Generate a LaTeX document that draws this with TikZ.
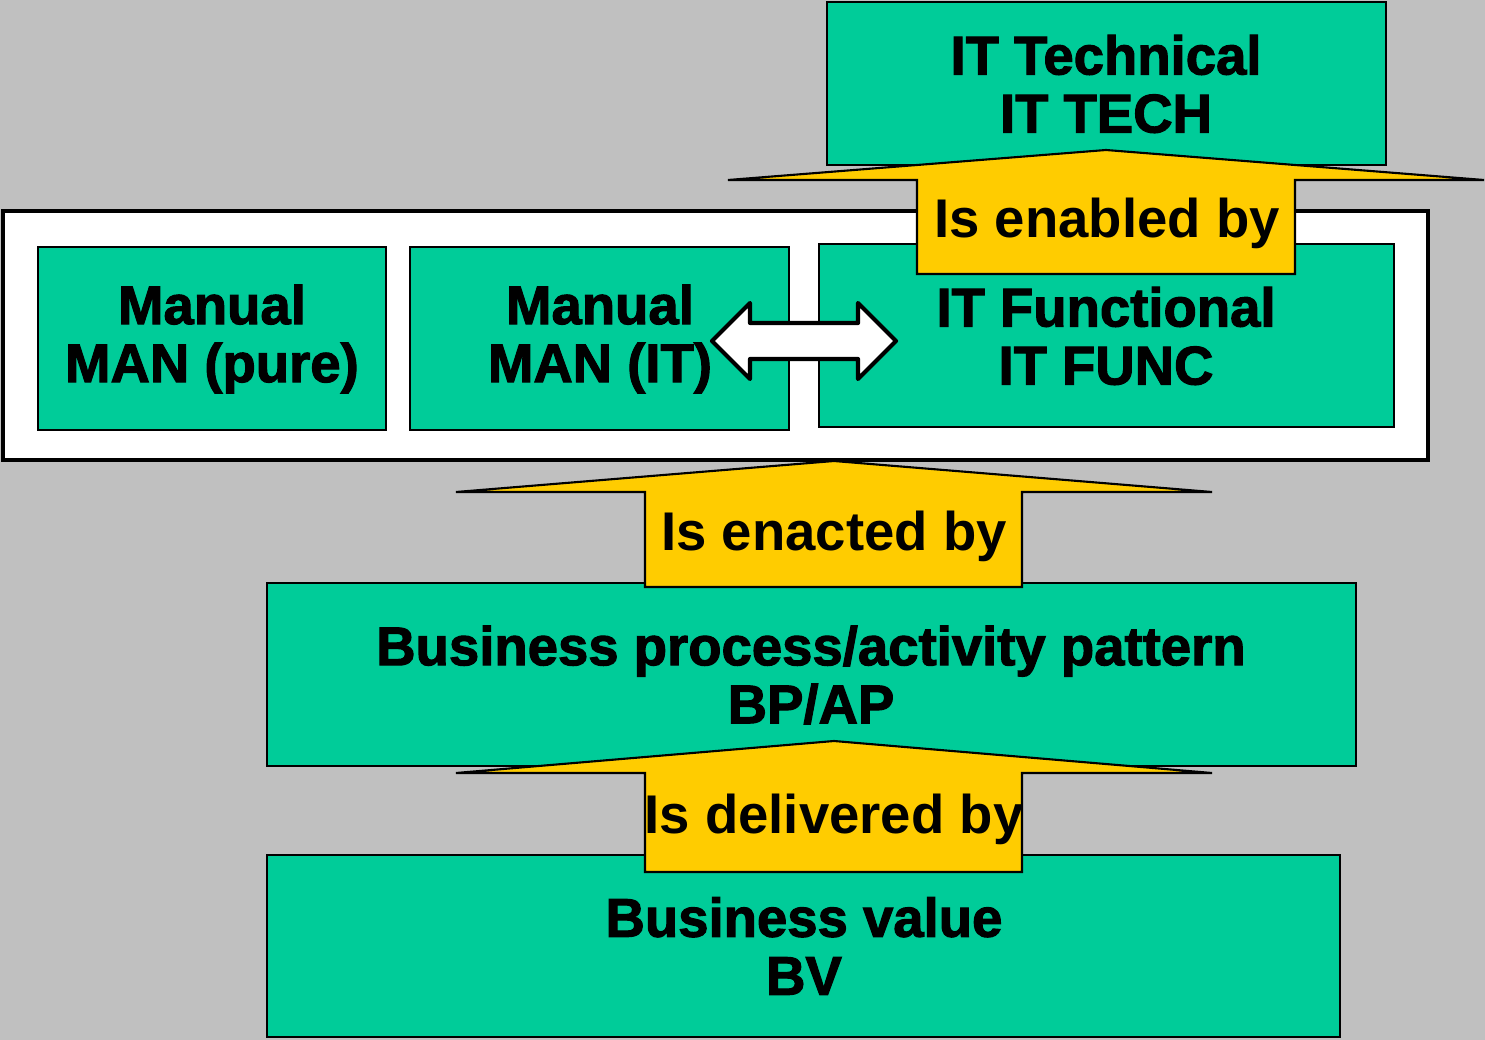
\documentclass[tikz,border=0pt]{standalone}
\usepackage{fontspec}
\setmainfont{Liberation Sans}
\newfontfamily\heavyfont{Liberation Sans}[BoldFeatures={FakeBold=2}]

\definecolor{boxgreen}{RGB}{0,204,153}
\definecolor{arrowyellow}{RGB}{255,204,0}
\definecolor{slidegray}{RGB}{192,192,192}

\tikzset{
  layerbox/.style={draw=black, line width=0.6pt, fill=boxgreen},
  layertext/.style={font=\heavyfont\bfseries\fontsize{15.5}{16.5}\selectfont, align=center, inner sep=0pt},
  uparrow/.style={draw=black, line width=0.6pt, fill=arrowyellow},
  arrowtext/.style={font=\bfseries\fontsize{15.5}{16.5}\selectfont, anchor=base, inner sep=0pt},
}

\begin{document}
\begin{tikzpicture}[x=0.01cm, y=-0.01cm]

% background
\useasboundingbox (0,0) rectangle (1485,1040);
\fill[slidegray] (0,0) rectangle (1485,1040);

% IT technical
\draw[layerbox] (827,2) rectangle (1386,165);
\node[layertext] (tech) at (1106,84) {IT Technical\\IT TECH};

% frame
\draw[line width=1.4pt, fill=white] (3,211) rectangle (1428,460);

% manual / functional
\draw[layerbox] (38,247) rectangle (386,430);
\node[layertext] (manpure) at (212,339) {Manual\\MAN (pure)};

\draw[layerbox] (410,247) rectangle (789,430);
\node[layertext] (manit) at (600,339) {Manual\\MAN (IT)};

\draw[layerbox] (819,244) rectangle (1394,427);
\node[layertext] (func) at (1106,336) {IT Functional\\IT FUNC};

% double arrow
\draw[line width=1.2pt, line join=round, fill=white]
  (712,341) -- (750,303) -- (750,323) -- (858,323) -- (858,303) -- (896,341)
  -- (858,379) -- (858,359) -- (750,359) -- (750,379) -- cycle;

% is enabled by
\draw[uparrow] (917,274) -- (917,180) -- (728,180) -- (1106,150) -- (1484,180)
  -- (1295,180) -- (1295,274) -- cycle;
\node[arrowtext] (enabled) at (1107,238) {Is enabled by};

% business process
\draw[layerbox] (267,583) rectangle (1356,766);
\node[layertext] (bpap) at (811,675) {Business process/activity pattern\\BP/AP};

% is enacted by
\draw[uparrow] (645,587) -- (645,492) -- (456,492) -- (834,461) -- (1212,492)
  -- (1022,492) -- (1022,587) -- cycle;
\node[arrowtext] (enacted) at (834,550) {Is enacted by};

% business value
\draw[layerbox] (267,855) rectangle (1340,1037);
\node[layertext] (bv) at (804,946) {Business value\\BV};

% is delivered by
\draw[uparrow] (645,872) -- (645,773) -- (456,773) -- (834,741) -- (1212,773)
  -- (1022,773) -- (1022,872) -- cycle;
\node[arrowtext] (delivered) at (834,833) {Is delivered by};

\end{tikzpicture}
\end{document}
